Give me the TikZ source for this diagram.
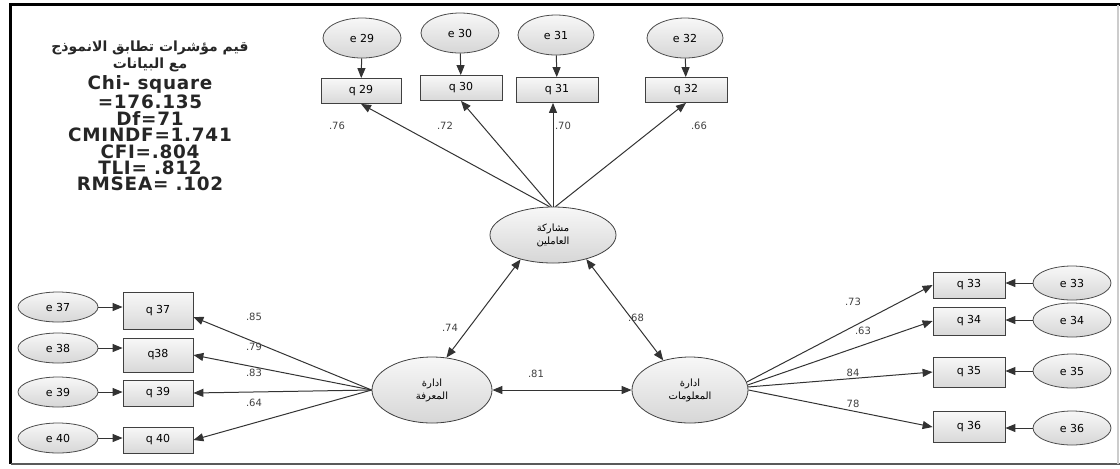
\documentclass[tikz,border=0pt]{standalone}
\usepackage{fontspec}
\setmainfont{DejaVu Sans}
\newfontfamily\arabicfont[Script=Arabic]{DejaVu Sans}
\TeXXeTstate=1
\usetikzlibrary{arrows.meta, shapes.geometric, positioning}

\begin{document}
\begin{tikzpicture}[
		x=0.5pt, y=-0.5pt,
		font=\fontsize{5.5}{6}\selectfont,
		% Style for the error terms
		errnode/.style={
			ellipse, draw=black!70, inner sep=0pt,
			top color=gray!6, bottom color=gray!32,
			minimum width=39pt, minimum height=17pt
		},
		% Style for the observed items
		itemnode/.style={
			rectangle, draw=black!75, inner sep=0pt,
			top color=gray!6, bottom color=gray!30,
			minimum width=35pt, minimum height=13pt
		},
		% Style for the latent variables
		latentnode/.style={
			ellipse, draw=black!75, inner sep=0pt, align=center,
			top color=gray!6, bottom color=gray!32,
			font=\arabicfont\fontsize{5}{6.5}\selectfont
		},
		coefnode/.style={font=\fontsize{5}{6}\selectfont, text=black!75},
		fitnode/.style={align=center, text=black!85, font=\bfseries\fontsize{9.2}{8.2}\selectfont\addfontfeature{LetterSpace=4}},
		arr/.style={-{Triangle[length=5pt,width=4pt]}, draw=black!80, line width=0.5pt},
		darr/.style={{Triangle[length=5pt,width=4pt]}-{Triangle[length=5pt,width=4pt]}, draw=black!80, line width=0.5pt}
		]
		\useasboundingbox (0,0) rectangle (1120,468);
		
		% --- FRAME ---
		\draw[line width=1.5pt] (1120,4.5) -- (10.5,4.5) -- (10.5,464);
		\draw[line width=1pt, black!65] (10.5,464) -- (1120,464);
		\draw[line width=0.8pt, black!20] (1118,4.5) -- (1118,464);
		
		% --- 1. FIT INDICES ---
		\node[fitnode, anchor=north] (fitidx) at (150,34) {%
			{\arabicfont\fontsize{7}{7.5}\selectfont\beginR قيم مؤشرات تطابق الانموذج\endR}\\
			{\arabicfont\fontsize{7}{7.5}\selectfont\beginR مع البيانات\endR}\\[1pt]
			Chi- square\\
			=176.135\\
			Df=71\\
			CMINDF=1.741\\
			CFI=.804\\
			TLI= .812\\
			RMSEA= .102};
		
		% --- 2. LATENT VARIABLES ---
		\node[latentnode, minimum width=63pt, minimum height=28pt] (pa) at (553,235) {\beginR مشاركة\endR\\\beginR العاملين\endR};
		\node[latentnode, minimum width=60pt, minimum height=33pt] (ko) at (432,390) {\beginR ادارة\endR\\\beginR المعرفة\endR};
		\node[latentnode, minimum width=58pt, minimum height=33pt] (io) at (690,390) {\beginR ادارة\endR\\\beginR المعلومات\endR};
		
		% --- 3. TOP ITEMS ---
		\node[itemnode, minimum width=40pt, minimum height=12.5pt] (q29) at (361,91) {q 29};
		\node[itemnode, minimum width=41pt, minimum height=12.5pt] (q30) at (461,88) {q 30};
		\node[itemnode, minimum width=41pt, minimum height=12.5pt] (q31) at (557,90) {q 31};
		\node[itemnode, minimum width=41pt, minimum height=12.5pt] (q32) at (686,90) {q 32};
		\node[errnode, minimum height=20pt] (e29) at (362,38) {e 29};
		\node[errnode, minimum height=20pt] (e30) at (460,33) {e 30};
		\node[errnode, minimum width=38pt, minimum height=20pt] (e31) at (556,35) {e 31};
		\node[errnode, minimum width=38pt, minimum height=20pt] (e32) at (685,38) {e 32};
		
		% --- 4. LEFT ITEMS ---
		\node[itemnode, minimum height=18.5pt] (q37) at (158,311) {q 37};
		\node[itemnode, minimum height=17pt] (q38) at (158,355) {q38};
		\node[itemnode] (q39) at (158,393) {q 39};
		\node[itemnode] (q40) at (158,440) {q 40};
		\node[errnode, minimum width=40pt, minimum height=15pt] (e37) at (58,307) {e 37};
		\node[errnode, minimum width=40pt, minimum height=15pt] (e38) at (58,348) {e 38};
		\node[errnode, minimum width=40pt, minimum height=15pt] (e39) at (58,392) {e 39};
		\node[errnode, minimum width=40pt, minimum height=15pt] (e40) at (58,438) {e 40};
		
		% --- 5. RIGHT ITEMS ---
		\node[itemnode, minimum width=36pt] (q33) at (969,285) {q 33};
		\node[itemnode, minimum width=36pt, minimum height=14pt] (q34) at (969,321) {q 34};
		\node[itemnode, minimum width=36pt, minimum height=15pt] (q35) at (969,372) {q 35};
		\node[itemnode, minimum width=36pt, minimum height=15.5pt] (q36) at (969,427) {q 36};
		\node[errnode] (e33) at (1072,283) {e 33};
		\node[errnode] (e34) at (1072,320) {e 34};
		\node[errnode] (e35) at (1072,371) {e 35};
		\node[errnode] (e36) at (1072,428) {e 36};
		
		% --- ARROWS ---
		\draw[arr] (e29) -- (q29);
		\draw[arr] (e30) -- (q30);
		\draw[arr] (e31) -- (q31);
		\draw[arr] (e32) -- (q32);
		\draw[arr] (e37) -- (q37.west |- e37);
		\draw[arr] (e38) -- (q38.west |- e38);
		\draw[arr] (e39) -- (q39.west |- e39);
		\draw[arr] (e40) -- (q40.west |- e40);
		\draw[arr] (e33) -- (q33.east |- e33);
		\draw[arr] (e34) -- (q34.east |- e34);
		\draw[arr] (e35) -- (q35.east |- e35);
		\draw[arr] (e36) -- (q36.east |- e36);
		
		\draw[arr] (pa.97) -- (q29.south);
		\draw[arr] (pa.93) -- (q30.south);
		\draw[arr] (pa.90) -- (q31.south -| pa.90);
		\draw[arr] (pa.85) -- (q32.south);
		
		\draw[arr] (ko.west) -- ([yshift=-3pt]q37.east);
		\draw[arr] (ko.west) -- (q38.east);
		\draw[arr] (ko.west) -- (q39.east);
		\draw[arr] (ko.west) -- (q40.east);
		
		\draw[arr] (io.8) -- (q33.west);
		\draw[arr] (io.5) -- (q34.west);
		\draw[arr] (io.3) -- (q35.west);
		\draw[arr] (io.0) -- (q36.west);
		
		\draw[darr] (pa.217) -- (ko.66);
		\draw[darr] (pa.-36) -- (io.132);
		\draw[darr] (ko.east) -- (io.west);
		
		% --- COEFFICIENTS ---
		\node[coefnode] (c29) at (337,126) {.76};
		\node[coefnode] (c30) at (445,126) {.72};
		\node[coefnode] (c31) at (563,126) {.70};
		\node[coefnode] (c32) at (699,126) {.66};
		\node[coefnode] (cko) at (450,328) {.74};
		\node[coefnode] (cio) at (636,318) {.68};
		\node[coefnode] (ckio) at (536,374) {.81};
		\node[coefnode] (c37) at (254,317) {.85};
		\node[coefnode] (c38) at (254,347) {.79};
		\node[coefnode] (c39) at (254,373) {.83};
		\node[coefnode] (c40) at (254,403) {.64};
		\node[coefnode] (c33) at (853,302) {.73};
		\node[coefnode] (c34) at (863,331) {.63};
		\node[coefnode] (c35) at (853,373) {84};
		\node[coefnode] (c36) at (853,404) {78};
		
	\end{tikzpicture}
\end{document}
